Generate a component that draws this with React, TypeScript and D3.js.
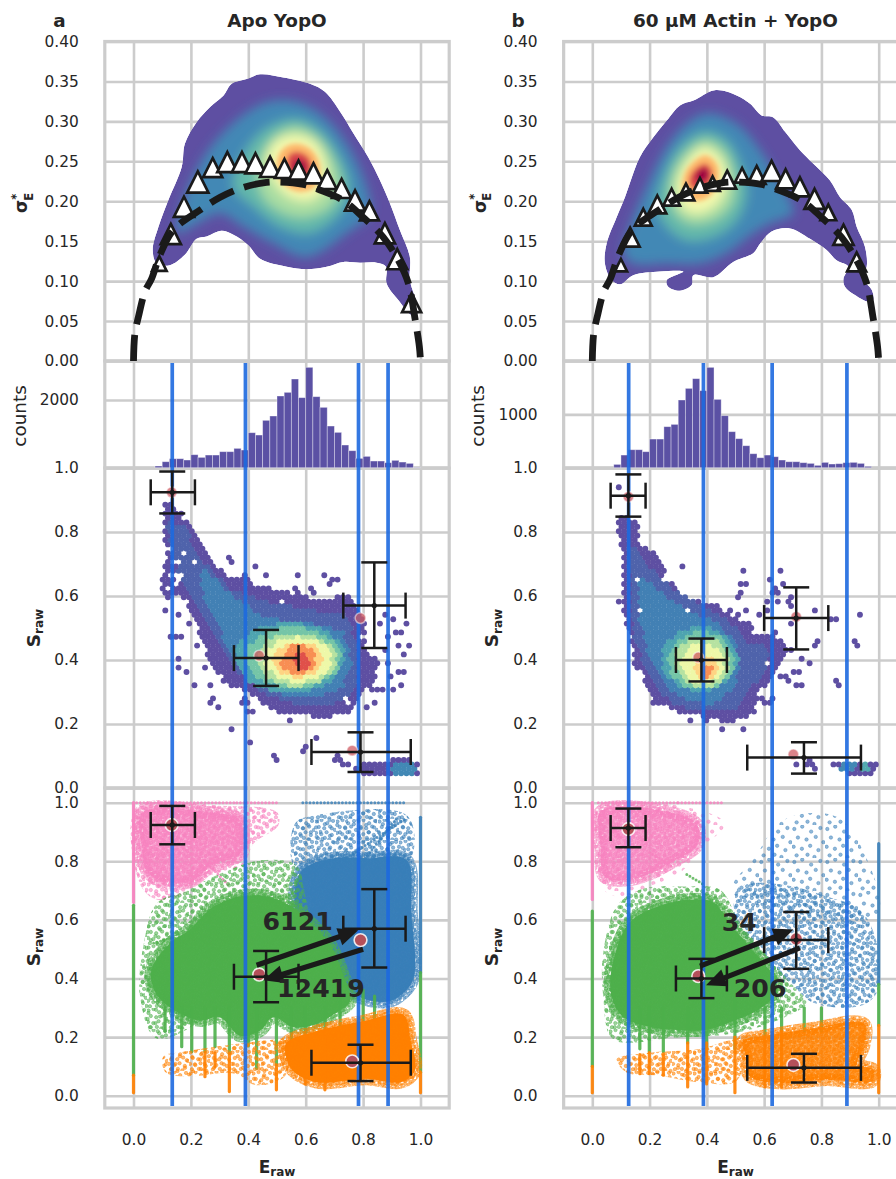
import React, { useEffect, useRef } from 'react';
import * as d3 from 'd3';

type Pt = [number, number];
type Pt3 = [number, number, number];
type Seg = [number, number, number, string];

// ---- histogram counts, bins start at E = 0.075 and are 0.025 wide
const histStart = 0.075;
const histStep = 0.025;
const apoCounts = [50, 177, 266, 266, 227, 384, 305, 374, 374, 473, 473, 571, 522, 1034, 965, 1399, 1527, 2118, 2226, 2620, 2069, 2965, 2098, 1783, 1231, 1044, 670, 502, 276, 335, 197, 197, 148, 217, 167, 128, 10];
const actinCounts = [62, 237, 337, 337, 300, 537, 537, 769, 812, 1269, 1487, 1669, 1444, 1881, 1281, 975, 675, 544, 412, 262, 187, 237, 206, 144, 112, 112, 94, 81, 44, 100, 69, 75, 94, 100, 81, 25];

// ---- blue FRET bursts cut lines
const apoCuts = [0.135, 0.39, 0.784, 0.887];
const actinCuts = [0.127, 0.388, 0.628, 0.889];

// ---- sigma triangles [E, sigma, marker size]
const apoSigma: Pt3[] = [[0.09, 0.122, 13], [0.13, 0.159, 18], [0.176, 0.193, 18], [0.224, 0.224, 19], [0.276, 0.242, 17], [0.327, 0.249, 18], [0.378, 0.249, 18], [0.425, 0.2475, 18], [0.476, 0.243, 18], [0.526, 0.241, 17], [0.575, 0.239, 17], [0.627, 0.235, 18], [0.675, 0.227, 17], [0.725, 0.216, 17], [0.772, 0.201, 18], [0.822, 0.188, 17], [0.876, 0.16, 18], [0.919, 0.1275, 18], [0.969, 0.073, 17]];
const actinSigma: Pt3[] = [[0.1, 0.12, 11], [0.132, 0.155, 17], [0.178, 0.18, 15], [0.227, 0.196, 16], [0.277, 0.205, 15], [0.327, 0.2115, 15], [0.376, 0.22, 13], [0.42, 0.222, 13], [0.471, 0.227, 16], [0.523, 0.2325, 13], [0.574, 0.233, 16], [0.626, 0.238, 18], [0.675, 0.228, 17], [0.725, 0.218, 17], [0.776, 0.203, 18], [0.824, 0.186, 14], [0.877, 0.158, 18], [0.923, 0.124, 17]];

// ---- static shot noise arc
const shotNoiseArc: Pt[] = [[0, 0], [0.005, 0.035], [0.017, 0.055], [0.04, 0.087], [0.063, 0.103], [0.092, 0.1325], [0.139, 0.164], [0.232, 0.189], [0.302, 0.205], [0.371, 0.216], [0.452, 0.223], [0.51, 0.224], [0.592, 0.221], [0.65, 0.214], [0.731, 0.201], [0.8, 0.18], [0.87, 0.155], [0.923, 0.126], [0.958, 0.097], [0.98, 0.055], [0.996, 0.018], [1, 0]];

// ---- density outline and contour bands, top row
const apoKdeOutline: Pt[] = [[0.441, 0.359], [0.522, 0.355], [0.615, 0.347], [0.667, 0.337], [0.72, 0.312], [0.766, 0.285], [0.818, 0.255], [0.859, 0.226], [0.894, 0.197], [0.928, 0.164], [0.963, 0.13], [0.963, 0.101], [0.992, 0.068], [0.992, 0.06], [0.969, 0.0575], [0.928, 0.074], [0.882, 0.097], [0.88, 0.118], [0.847, 0.123], [0.789, 0.123], [0.731, 0.124], [0.673, 0.118], [0.603, 0.115], [0.534, 0.118], [0.441, 0.128], [0.4, 0.145], [0.348, 0.158], [0.307, 0.163], [0.255, 0.156], [0.22, 0.153], [0.179, 0.133], [0.127, 0.12], [0.081, 0.122], [0.067, 0.139], [0.087, 0.168], [0.121, 0.201], [0.168, 0.243], [0.179, 0.272], [0.22, 0.299], [0.267, 0.318], [0.313, 0.332], [0.342, 0.347], [0.394, 0.353]];
const apoKdeBlue: Pt[] = [[0.545, 0.326], [0.65, 0.31], [0.743, 0.272], [0.812, 0.218], [0.824, 0.185], [0.743, 0.16], [0.603, 0.13], [0.487, 0.147], [0.383, 0.168], [0.301, 0.185], [0.22, 0.172], [0.15, 0.16], [0.168, 0.193], [0.22, 0.239], [0.278, 0.272], [0.371, 0.305], [0.464, 0.324]];
const apoKdeTeal: Pt[] = [[0.563, 0.303], [0.65, 0.289], [0.719, 0.255], [0.754, 0.218], [0.719, 0.185], [0.615, 0.16], [0.51, 0.168], [0.418, 0.193], [0.348, 0.218], [0.371, 0.251], [0.452, 0.289]];
const apoKdeGreen: Pt[] = [[0.563, 0.293], [0.638, 0.28], [0.696, 0.251], [0.719, 0.218], [0.685, 0.193], [0.603, 0.18], [0.522, 0.185], [0.452, 0.205], [0.429, 0.239], [0.476, 0.276]];
const apoKdeYellow: Pt[] = [[0.563, 0.283], [0.627, 0.276], [0.667, 0.251], [0.667, 0.218], [0.615, 0.201], [0.545, 0.205], [0.487, 0.226], [0.464, 0.251], [0.499, 0.276]];
const apoKdeOrange: Pt[] = [[0.569, 0.272], [0.621, 0.264], [0.65, 0.243], [0.632, 0.218], [0.58, 0.212], [0.522, 0.222], [0.499, 0.247], [0.522, 0.266]];
const apoKdeRed: Pt[] = [[0.572, 0.262], [0.609, 0.255], [0.621, 0.239], [0.592, 0.226], [0.551, 0.232], [0.534, 0.247], [0.545, 0.259]];
const apoKdeCore: Pt[] = [[0.574, 0.252], [0.598, 0.247], [0.598, 0.237], [0.574, 0.232], [0.555, 0.241], [0.557, 0.248]];

const actinKdeOutline: Pt[] = [[0.428, 0.339], [0.504, 0.3325], [0.551, 0.322], [0.591, 0.3075], [0.632, 0.305], [0.673, 0.287], [0.725, 0.264], [0.772, 0.247], [0.83, 0.226], [0.865, 0.205], [0.906, 0.189], [0.923, 0.168], [0.952, 0.143], [0.958, 0.118], [0.941, 0.105], [0.976, 0.089], [0.981, 0.076], [0.964, 0.074], [0.917, 0.0825], [0.882, 0.093], [0.877, 0.103], [0.894, 0.118], [0.853, 0.126], [0.818, 0.139], [0.76, 0.153], [0.69, 0.166], [0.626, 0.162], [0.586, 0.147], [0.562, 0.135], [0.492, 0.124], [0.423, 0.105], [0.353, 0.1075], [0.347, 0.095], [0.306, 0.088], [0.265, 0.093], [0.26, 0.101], [0.318, 0.112], [0.236, 0.112], [0.143, 0.1075], [0.097, 0.096], [0.0675, 0.101], [0.044, 0.122], [0.05, 0.147], [0.085, 0.18], [0.114, 0.205], [0.166, 0.255], [0.213, 0.28], [0.26, 0.301], [0.306, 0.32], [0.353, 0.326]];
const actinKdeBlue: Pt[] = [[0.399, 0.31], [0.504, 0.297], [0.586, 0.264], [0.644, 0.23], [0.69, 0.201], [0.702, 0.185], [0.62, 0.172], [0.562, 0.16], [0.469, 0.135], [0.376, 0.122], [0.26, 0.122], [0.143, 0.122], [0.108, 0.135], [0.132, 0.168], [0.19, 0.218], [0.26, 0.268], [0.329, 0.297]];
const actinKdeTeal: Pt[] = [[0.393, 0.287], [0.469, 0.276], [0.516, 0.247], [0.539, 0.21], [0.504, 0.176], [0.423, 0.155], [0.329, 0.151], [0.26, 0.168], [0.225, 0.193], [0.248, 0.23], [0.306, 0.268]];
const actinKdeGreen: Pt[] = [[0.393, 0.276], [0.458, 0.264], [0.492, 0.235], [0.492, 0.201], [0.434, 0.178], [0.341, 0.172], [0.283, 0.189], [0.271, 0.218], [0.306, 0.251]];
const actinKdeYellow: Pt[] = [[0.388, 0.268], [0.446, 0.255], [0.469, 0.23], [0.446, 0.201], [0.376, 0.185], [0.318, 0.191], [0.295, 0.214], [0.318, 0.243]];
const actinKdeOrange: Pt[] = [[0.393, 0.2575], [0.434, 0.247], [0.44, 0.226], [0.405, 0.205], [0.353, 0.201], [0.318, 0.214], [0.329, 0.239]];
const actinKdeRed: Pt[] = [[0.393, 0.247], [0.417, 0.239], [0.411, 0.222], [0.37, 0.214], [0.341, 0.22], [0.347, 0.235]];
const actinKdeCore: Pt[] = [[0.393, 0.241], [0.405, 0.2325], [0.382, 0.224], [0.362, 0.228], [0.37, 0.237]];

// colour position of each band on the Spectral ramp
const kdeLevels = [0.1, 0.19, 0.3, 0.46, 0.68, 0.88, 1];

// ---- hexbin panel: outlines of count levels, then ellipses [E, S, rE, rS, level]
const apoHexOuter: Pt[] = [[0.102, 0.846], [0.106, 0.893], [0.139, 0.882], [0.185, 0.846], [0.208, 0.794], [0.255, 0.742], [0.29, 0.69], [0.336, 0.658], [0.383, 0.658], [0.429, 0.632], [0.499, 0.622], [0.58, 0.601], [0.65, 0.585], [0.754, 0.606], [0.807, 0.523], [0.812, 0.44], [0.853, 0.3875], [0.836, 0.335], [0.783, 0.283], [0.766, 0.242], [0.685, 0.221], [0.603, 0.226], [0.534, 0.226], [0.464, 0.252], [0.394, 0.304], [0.336, 0.32], [0.29, 0.367], [0.255, 0.419], [0.22, 0.5125], [0.185, 0.585], [0.15, 0.606], [0.104, 0.585], [0.096, 0.658], [0.121, 0.742], [0.104, 0.794]];
const apoHexLevel1: Pt[] = [[0.116, 0.835], [0.174, 0.825], [0.232, 0.721], [0.29, 0.669], [0.348, 0.617], [0.464, 0.585], [0.638, 0.554], [0.743, 0.544], [0.778, 0.44], [0.783, 0.346], [0.743, 0.273], [0.638, 0.252], [0.522, 0.273], [0.441, 0.304], [0.371, 0.356], [0.325, 0.419], [0.278, 0.481], [0.22, 0.585], [0.162, 0.669], [0.127, 0.731]];
const apoHexLevel2: Pt[] = [[0.243, 0.69], [0.29, 0.648], [0.371, 0.585], [0.464, 0.533], [0.638, 0.5125], [0.731, 0.492], [0.76, 0.398], [0.731, 0.315], [0.638, 0.283], [0.522, 0.294], [0.429, 0.335], [0.359, 0.398], [0.313, 0.471], [0.278, 0.544], [0.232, 0.627]];
const apoHexCore = [[0.545, 0.408, 0.19, 0.11, 0.15], [0.557, 0.408, 0.165, 0.095, 0.22], [0.568, 0.403, 0.14, 0.083, 0.32], [0.574, 0.403, 0.115, 0.07, 0.44], [0.574, 0.403, 0.085, 0.055, 0.62], [0.574, 0.403, 0.06, 0.045, 0.75], [0.586, 0.398, 0.03, 0.03, 0.86], [0.94, 0.06, 0.05, 0.02, 0.1]];
const apoHexTail: Pt[] = [[0.754, 0.054], [0.795, 0.08], [0.871, 0.08], [0.917, 0.096], [0.969, 0.096], [0.998, 0.0625], [0.987, 0.044], [0.812, 0.044]];
const apoHexLoose: Pt[] = [[0.339, 0.183], [0.414, 0.1375], [0.491, 0.094], [0.542, 0.2125], [0.592, 0.122], [0.644, 0.153], [0.711, 0.094], [0.739, 0.077], [0.329, 0.721], [0.336, 0.705], [0.423, 0.692], [0.456, 0.664], [0.388, 0.658], [0.577, 0.664], [0.659, 0.66], [0.678, 0.6375], [0.702, 0.648], [0.569, 0.617], [0.621, 0.617], [0.87, 0.544], [0.905, 0.528], [0.946, 0.5125], [0.934, 0.486], [0.958, 0.44], [0.94, 0.419], [0.894, 0.471], [0.865, 0.5125], [0.917, 0.481], [0.882, 0.393], [0.899, 0.351], [0.932, 0.361], [0.94, 0.318], [0.899, 0.304], [0.859, 0.304], [0.824, 0.304], [0.812, 0.257], [0.842, 0.268], [0.836, 0.335], [0.882, 0.429], [0.923, 0.45], [0.162, 0.408], [0.162, 0.377], [0.191, 0.361], [0.208, 0.32], [0.267, 0.32], [0.273, 0.273], [0.296, 0.257], [0.406, 0.242], [0.388, 0.273], [0.307, 0.33], [0.243, 0.372], [0.22, 0.45], [0.174, 0.471], [0.139, 0.469], [0.162, 0.5385], [0.197, 0.518], [0.11, 0.559]];
const apoHexHoles: Pt[] = [[0.168, 0.845], [0.176, 0.738], [0.212, 0.71], [0.516, 0.5875], [0.746, 0.273], [0.804, 0.471], [0.162, 0.705], [0.133, 0.752], [0.139, 0.705], [0.162, 0.658], [0.139, 0.669], [0.12, 0.62], [0.15, 0.64]];

const actinHexOuter: Pt[] = [[0.085, 0.846], [0.12, 0.856], [0.166, 0.815], [0.155, 0.7625], [0.213, 0.742], [0.248, 0.71], [0.26, 0.658], [0.306, 0.606], [0.376, 0.585], [0.434, 0.57], [0.492, 0.533], [0.562, 0.518], [0.562, 0.471], [0.638, 0.481], [0.69, 0.429], [0.655, 0.377], [0.586, 0.304], [0.562, 0.231], [0.469, 0.205], [0.399, 0.221], [0.283, 0.242], [0.225, 0.268], [0.184, 0.335], [0.143, 0.429], [0.12, 0.5125], [0.102, 0.648], [0.114, 0.71], [0.097, 0.7625]];
const actinHexLevel1: Pt[] = [[0.126, 0.773], [0.19, 0.7], [0.248, 0.648], [0.329, 0.596], [0.423, 0.554], [0.492, 0.5125], [0.539, 0.45], [0.609, 0.45], [0.62, 0.398], [0.551, 0.304], [0.516, 0.252], [0.376, 0.242], [0.283, 0.2625], [0.225, 0.315], [0.178, 0.398], [0.143, 0.481], [0.132, 0.606]];
const actinHexLevel2: Pt[] = [[0.155, 0.669], [0.236, 0.617], [0.329, 0.554], [0.423, 0.523], [0.492, 0.471], [0.516, 0.398], [0.504, 0.315], [0.423, 0.2625], [0.329, 0.273], [0.26, 0.315], [0.201, 0.398], [0.166, 0.523]];
const actinHexCore = [[0.376, 0.403, 0.134, 0.1, 0.15], [0.38, 0.398, 0.115, 0.09, 0.22], [0.385, 0.393, 0.095, 0.078, 0.32], [0.385, 0.39, 0.075, 0.062, 0.44], [0.395, 0.375, 0.04, 0.04, 0.62], [0.405, 0.365, 0.018, 0.018, 0.75], [0.895, 0.065, 0.03, 0.015, 0.1], [0.955, 0.062, 0.02, 0.012, 0.16]];
const actinHexTail: Pt[] = [[0.807, 0.0625], [0.853, 0.08], [0.993, 0.0855], [0.993, 0.075], [0.981, 0.044], [0.9, 0.044], [0.877, 0.059]];
const actinHexLoose: Pt[] = [[0.32, 0.692], [0.533, 0.677], [0.653, 0.677], [0.62, 0.648], [0.51, 0.603], [0.527, 0.632], [0.539, 0.632], [0.661, 0.632], [0.638, 0.617], [0.603, 0.5875], [0.65, 0.585], [0.702, 0.601], [0.69, 0.575], [0.772, 0.556], [0.842, 0.528], [0.935, 0.542], [0.483, 0.556], [0.533, 0.556], [0.51, 0.539], [0.58, 0.544], [0.609, 0.556], [0.69, 0.5125], [0.638, 0.483], [0.917, 0.452], [0.781, 0.452], [0.69, 0.434], [0.739, 0.408], [0.762, 0.393], [0.73, 0.3635], [0.696, 0.3635], [0.667, 0.351], [0.679, 0.33], [0.722, 0.317], [0.85, 0.333], [0.857, 0.317], [0.597, 0.273], [0.626, 0.273], [0.091, 0.5875], [0.108, 0.559], [0.1, 0.934], [0.339, 0.2125], [0.525, 0.183], [0.4575, 0.183], [0.402, 0.2125], [0.705, 0.077], [0.754, 0.08], [0.781, 0.0625], [0.772, 0.077], [0.149, 0.3875], [0.166, 0.372], [0.219, 0.273]];
const actinHexHoles: Pt[] = [[0.157, 0.648], [0.242, 0.648], [0.329, 0.559], [0.161, 0.559], [0.609, 0.393]];

// ---- cluster means: [E, S]; Gaussian fit with x and y extents of the error bars
const apoMeans: Pt[] = [[0.133, 0.924], [0.438, 0.4135], [0.791, 0.531], [0.762, 0.117]];
const apoFits = [[0.135, 0.924, 0.06, 0.214, 0.858, 0.989], [0.462, 0.406, 0.35, 0.575, 0.319, 0.494], [0.839, 0.57, 0.731, 0.948, 0.4375, 0.705], [0.791, 0.1125, 0.62, 0.966, 0.05, 0.174]];
const actinMeans: Pt[] = [[0.126, 0.91], [0.37, 0.408], [0.712, 0.535], [0.702, 0.105]];
const actinFits = [[0.126, 0.9135, 0.064, 0.186, 0.848, 0.98], [0.381, 0.4, 0.292, 0.47, 0.333, 0.467], [0.712, 0.531, 0.6, 0.824, 0.433, 0.627], [0.739, 0.095, 0.541, 0.938, 0.045, 0.143]];

// ---- transition arrows [E0, S0, E1, S1] and their counts [label, E, S]
const apoArrows = [[0.429, 0.445, 0.783, 0.565], [0.8, 0.5, 0.452, 0.394]];
const apoRates: [string, number, number][] = [['6121', 0.572, 0.595], ['12419', 0.653, 0.369]];
const actinArrows = [[0.376, 0.442, 0.702, 0.567], [0.725, 0.5045, 0.397, 0.377]];
const actinRates: [string, number, number][] = [['34', 0.513, 0.592], ['206', 0.586, 0.369]];

// ---- scatter clouds, bottom row: outlines of the filled and of the thin parts
const apoPinkCore: Pt[] = [[0.03, 0.965], [0.278, 0.965], [0.37, 0.94], [0.37, 0.825], [0.278, 0.79], [0.197, 0.73], [0.092, 0.735], [0.045, 0.77], [0.03, 0.85]];
const apoPinkThin: Pt[] = [[0.011, 0.985], [0.3, 0.99], [0.499, 0.968], [0.505, 0.923], [0.418, 0.86], [0.383, 0.792], [0.255, 0.747], [0.174, 0.69], [0.092, 0.667], [0.028, 0.7125]];
const apoBlueCore: Pt[] = [[0.58, 0.76], [0.696, 0.81], [0.812, 0.81], [0.95, 0.805], [0.968, 0.622], [0.975, 0.4], [0.92, 0.335], [0.871, 0.32], [0.78, 0.34], [0.7, 0.4], [0.58, 0.55]];
const apoBlueThin: Pt[] = [[0.563, 0.929], [0.638, 0.957], [0.952, 0.957], [0.969, 0.815], [0.85, 0.75], [0.568, 0.769]];
const apoGreenCore: Pt[] = [[0.195, 0.566], [0.278, 0.645], [0.371, 0.68], [0.464, 0.68], [0.55, 0.646], [0.628, 0.58], [0.686, 0.515], [0.733, 0.406], [0.756, 0.325], [0.7, 0.279], [0.638, 0.245], [0.557, 0.234], [0.487, 0.268], [0.441, 0.2225], [0.371, 0.205], [0.301, 0.268], [0.232, 0.2566], [0.145, 0.291], [0.079, 0.3475], [0.062, 0.428], [0.126, 0.519]];
const apoGreenThin: Pt[] = [[0.034, 0.508], [0.081, 0.656], [0.185, 0.7], [0.278, 0.747], [0.441, 0.803], [0.568, 0.786], [0.592, 0.7125], [0.6, 0.55], [0.3, 0.3], [0.081, 0.195], [0.023, 0.3375]];
const apoOrangeCore: Pt[] = [[0.532, 0.18], [0.638, 0.22], [0.8, 0.254], [0.94, 0.276], [0.965, 0.19], [0.98, 0.085], [0.93, 0.046], [0.812, 0.058], [0.638, 0.046], [0.555, 0.086], [0.532, 0.133]];
const apoOrangeThin: Pt[] = [[0.104, 0.133], [0.174, 0.15], [0.371, 0.178], [0.476, 0.19], [0.53, 0.19], [0.53, 0.07], [0.429, 0.036], [0.348, 0.076], [0.185, 0.065], [0.11, 0.082]];

const actinPinkCore: Pt[] = [[0.03, 0.97], [0.26, 0.97], [0.366, 0.925], [0.366, 0.855], [0.283, 0.8], [0.201, 0.758], [0.12, 0.736], [0.043, 0.747], [0.03, 0.85]];
const actinPinkThin: Pt[] = [[0.021, 0.986], [0.3, 0.99], [0.463, 0.93], [0.376, 0.839], [0.306, 0.76], [0.213, 0.72], [0.085, 0.68], [0.033, 0.714]];
const actinBlueCore: Pt[] = [[0.504, 0.703], [0.562, 0.7256], [0.702, 0.714], [0.818, 0.68], [0.935, 0.635], [0.993, 0.5215], [0.993, 0.351], [0.935, 0.306], [0.772, 0.317], [0.702, 0.374], [0.62, 0.442], [0.504, 0.59]];
const actinBlueThin: Pt[] = [[0.562, 0.805], [0.667, 0.941], [0.853, 0.952], [0.97, 0.782], [0.999, 0.624], [0.9, 0.6], [0.6, 0.65], [0.492, 0.714]];
const actinGreenCore: Pt[] = [[0.13, 0.59], [0.236, 0.648], [0.353, 0.67], [0.423, 0.659], [0.482, 0.585], [0.552, 0.505], [0.616, 0.431], [0.645, 0.358], [0.58, 0.293], [0.504, 0.259], [0.399, 0.225], [0.283, 0.225], [0.19, 0.237], [0.105, 0.271], [0.066, 0.345], [0.072, 0.4535]];
const actinGreenThin: Pt[] = [[0.038, 0.4875], [0.085, 0.646], [0.166, 0.703], [0.329, 0.714], [0.446, 0.703], [0.516, 0.59], [0.702, 0.374], [0.749, 0.317], [0.655, 0.261], [0.504, 0.215], [0.283, 0.198], [0.073, 0.193], [0.038, 0.34]];
const actinOrangeCore: Pt[] = [[0.526, 0.185], [0.609, 0.205], [0.76, 0.228], [0.948, 0.245], [0.948, 0.17], [0.925, 0.11], [0.983, 0.087], [0.977, 0.05], [0.818, 0.055], [0.655, 0.044], [0.549, 0.067], [0.537, 0.136]];
const actinOrangeThin: Pt[] = [[0.085, 0.125], [0.201, 0.147], [0.376, 0.159], [0.469, 0.187], [0.53, 0.193], [0.504, 0.051], [0.376, 0.045], [0.236, 0.068], [0.12, 0.079]];

// ---- vertical stripes of bursts with few photons: [E, S from, S to, cluster]
const apoStripes: Seg[] = [[0, 1, 0.66, 'pink'], [0, 0.65, 0.07, 'green'], [0, 0.07, 0.01, 'orange'], [1, 0.95, 0.42, 'blue'], [1, 0.42, 0.08, 'green'], [1, 0.08, 0.01, 'orange'], [0.11, 0.3, 0.22, 'green'], [0.168, 0.3, 0.167, 'green'], [0.203, 0.3, 0.15, 'green'], [0.249, 0.3, 0.15, 'green'], [0.249, 0.15, 0.065, 'orange'], [0.284, 0.3, 0.167, 'green'], [0.284, 0.145, 0.099, 'orange'], [0.334, 0.3, 0.144, 'green'], [0.334, 0.144, 0.014, 'orange'], [0.4, 0.3, 0.17, 'green'], [0.429, 0.3, 0.093, 'green'], [0.498, 0.3, 0.105, 'green'], [0.498, 0.105, 0.02, 'orange'], [0.55, 0.3, 0.17, 'green'], [0.598, 0.3, 0.15, 'green'], [0.598, 0.15, 0.04, 'orange'], [0.667, 0.3, 0.2, 'green'], [0.667, 0.2, 0.02, 'orange'], [0.72, 0.32, 0.24, 'green'], [0.8, 0.36, 0.25, 'green'], [0.84, 0.34, 0.26, 'green']];
const actinStripes: Seg[] = [[0, 1, 0.67, 'pink'], [0, 0.63, 0.1, 'green'], [0, 0.1, 0.01, 'orange'], [1, 0.86, 0.38, 'blue'], [1, 0.38, 0.24, 'green'], [1, 0.24, 0.01, 'orange'], [0.166, 0.3, 0.16, 'green'], [0.166, 0.14, 0.075, 'orange'], [0.199, 0.3, 0.15, 'green'], [0.199, 0.147, 0.075, 'orange'], [0.248, 0.3, 0.15, 'green'], [0.248, 0.14, 0.07, 'orange'], [0.333, 0.3, 0.18, 'green'], [0.333, 0.18, 0.03, 'orange'], [0.399, 0.3, 0.15, 'green'], [0.399, 0.18, 0.04, 'orange'], [0.498, 0.34, 0.16, 'green'], [0.498, 0.2, 0.01, 'orange'], [0.603, 0.3, 0.2, 'green'], [0.603, 0.2, 0.03, 'orange'], [0.661, 0.3, 0.22, 'green'], [0.661, 0.22, 0.03, 'orange'], [0.74, 0.3, 0.22, 'green'], [0.8, 0.3, 0.22, 'green']];

// ---- straight lines of dots [E0, S0, E1, S1, cluster]
const apoRays: [number, number, number, number, string][] = [[0.011, 1, 0.36, 1, 'pink'], [0.36, 1, 0.5, 1, 'pink'], [0.59, 1, 0.95, 1, 'blue'], [0.609, 0.724, 0.946, 0.945, 'blue'], [0.8, 0.8, 0.92, 0.95, 'blue'], [0.5, 0.66, 0.57, 0.7, 'green'], [0.07, 0.52, 0.14, 0.54, 'green'], [0.25, 0.8, 0.33, 0.72, 'pink']];
const actinRays: [number, number, number, number, string][] = [[0.021, 1, 0.3, 1, 'pink'], [0.3, 1, 0.46, 1, 'pink'], [0.03, 0.97, 0.1, 0.88, 'pink'], [0.2, 0.83, 0.28, 0.78, 'pink'], [0.33, 0.755, 0.39, 0.72, 'green']];

const colors: Record<string, string> = { pink: '#f781bf', blue: '#377eb8', green: '#4daf4a', orange: '#ff7f00' };
const ink = '#262626';
const mark = '#1a1a1a';
const gridColor = '#cccccc';
const cutColor = '#1d69df';
const font = "'DejaVu Sans', sans-serif";

// scatter texture, positions inside one pattern tile
const tileDots: Pt[] = [[0.07, 0.12], [0.31, 0.05], [0.58, 0.2], [0.86, 0.09], [0.18, 0.38], [0.44, 0.44], [0.72, 0.36], [0.95, 0.52], [0.05, 0.66], [0.3, 0.72], [0.55, 0.63], [0.8, 0.76], [0.14, 0.92], [0.47, 0.9], [0.68, 0.97]];
const spectral = (t: number) => d3.interpolateSpectral(1 - t);

const inEllipse = (e: number, s: number, c: number[]) => ((e - c[0]) / c[2]) ** 2 + ((s - c[1]) / c[3]) ** 2 <= 1;

const columns = [
  {
    id: 'a', letter: 'a', title: 'Apo YopO', x0: 133.5, x1: 420.5, counts: apoCounts, histMax: 3152, histTicks: [2000], cuts: apoCuts,
    sigma: apoSigma, outline: apoKdeOutline, bands: [apoKdeBlue, apoKdeTeal, apoKdeGreen, apoKdeYellow, apoKdeOrange, apoKdeRed, apoKdeCore],
    hexOuter: apoHexOuter, hexL1: apoHexLevel1, hexL2: apoHexLevel2, hexCore: apoHexCore, hexTail: apoHexTail, hexLoose: apoHexLoose, hexHoles: apoHexHoles,
    means: apoMeans, fits: apoFits, arrows: apoArrows, rates: apoRates, stripes: apoStripes, rays: apoRays,
    clouds: [
      ['pink', apoPinkThin, 'mid', apoPinkCore, 'pinkSolid'], ['blue', apoBlueThin, 'mid', apoBlueCore, 'solid'],
      ['green', apoGreenThin, 'mid', apoGreenCore, 'solid'], ['orange', apoOrangeThin, 'mid', apoOrangeCore, 'solid'],
    ],
  },
  {
    id: 'b', letter: 'b', title: '60 µM Actin + YopO', x0: 592.3, x1: 878.7, counts: actinCounts, histMax: 2000, histTicks: [1000], cuts: actinCuts,
    sigma: actinSigma, outline: actinKdeOutline, bands: [actinKdeBlue, actinKdeTeal, actinKdeGreen, actinKdeYellow, actinKdeOrange, actinKdeRed, actinKdeCore],
    hexOuter: actinHexOuter, hexL1: actinHexLevel1, hexL2: actinHexLevel2, hexCore: actinHexCore, hexTail: actinHexTail, hexLoose: actinHexLoose, hexHoles: actinHexHoles,
    means: actinMeans, fits: actinFits, arrows: actinArrows, rates: actinRates, stripes: actinStripes, rays: actinRays,
    clouds: [
      ['pink', actinPinkThin, 'sparse', actinPinkCore, 'pinkSolid'], ['blue', actinBlueThin, 'sparse', actinBlueCore, 'mid'],
      ['green', actinGreenThin, 'mid', actinGreenCore, 'solid'], ['orange', actinOrangeThin, 'mid', actinOrangeCore, 'dense'],
    ],
  },
];

function drawColumn(svg: any, defs: any, c: any) {
  const unit = c.x1 - c.x0;
  const x = d3.scaleLinear().domain([-0.1, 1.1]).range([c.x0 - 0.1 * unit, c.x1 + 0.1 * unit]);
  const ySigma = d3.scaleLinear().domain([0, 0.4]).range([361, 41.5]);
  const yHist = d3.scaleLinear().domain([0, c.histMax]).range([467.7, 361]);
  const yHex = d3.scaleLinear().domain([0, 1]).range([788, 468]);
  const yDots = d3.scaleLinear().domain([0, 1]).range([1095.7, 802.7]);
  const left = x.range()[0];
  const right = x.range()[1];
  const frameBottom = 1108;
  const width = right - left;
  const g = svg.append('g');

  const styleAxis = (a: any) => {
    a.select('.domain').remove();
    a.selectAll('line').attr('stroke', gridColor).attr('stroke-width', 2.6);
    a.selectAll('text').attr('fill', ink).attr('font-family', font).attr('font-size', 15.4);
  };
  const yAxis = (scale: any, ticks: number[], fmt: string) =>
    g.append('g').attr('transform', `translate(${left},0)`)
      .call(d3.axisLeft(scale).tickValues(ticks).tickFormat(d3.format(fmt) as any).tickSize(-width).tickPadding(26))
      .call(styleAxis);

  yAxis(ySigma, [0, 0.05, 0.1, 0.15, 0.2, 0.25, 0.3, 0.35, 0.4], '.2f');
  yAxis(yHist, c.histTicks, 'd');
  yAxis(yHex, [0, 0.2, 0.4, 0.6, 0.8, 1], '.1f');
  yAxis(yDots, [0, 0.2, 0.4, 0.6, 0.8, 1], '.1f');
  g.append('g').attr('transform', `translate(0,${frameBottom})`)
    .call(d3.axisBottom(x).tickValues([0, 0.2, 0.4, 0.6, 0.8, 1]).tickFormat(d3.format('.1f') as any).tickSize(-(frameBottom - 41.5)).tickPadding(26))
    .call(styleAxis);

  [[41.5, 361], [361, 468], [468, 788], [788, frameBottom]].forEach(([top, bottom]) => {
    g.append('rect').attr('x', left).attr('y', top).attr('width', width).attr('height', bottom - top)
      .attr('fill', 'none').attr('stroke', gridColor).attr('stroke-width', 3.2);
  });

  // top row: density, wide blur for the outer bands and a tight one round the peak
  const kdeLine = d3.line<Pt>().x(d => x(d[0])).y(d => ySigma(d[1])).curve(d3.curveCatmullRomClosed);
  defs.append('clipPath').attr('id', `kde-${c.id}`).append('path').attr('d', kdeLine(c.outline));
  const kde = g.append('g').attr('clip-path', `url(#kde-${c.id})`);
  kde.append('path').attr('d', kdeLine(c.outline)).attr('fill', spectral(0));
  const blurred = kde.append('g').attr('filter', 'url(#soften)');
  const peak = kde.append('g').attr('filter', 'url(#soften-peak)');
  c.bands.forEach((band: Pt[], i: number) => {
    (i < 4 ? blurred : peak).append('path').attr('d', kdeLine(band)).attr('fill', spectral(kdeLevels[i]));
  });

  g.selectAll(null).data(c.sigma).join('path')
    .attr('d', (d: Pt3) => { const h = d[2] * 0.56; return `M0,${-h}L${h},${h}L${-h},${h}Z`; })
    .attr('transform', (d: Pt3) => `translate(${x(d[0])},${ySigma(d[1])})`)
    .attr('fill', '#fff').attr('stroke', mark).attr('stroke-width', 2.7).attr('stroke-linejoin', 'miter');

  const arc = d3.line<Pt>().x(d => x(d[0])).y(d => ySigma(d[1])).curve(d3.curveCatmullRom);
  g.append('path').attr('d', arc(shotNoiseArc)).attr('fill', 'none').attr('stroke', mark)
    .attr('stroke-width', 6.8).attr('stroke-dasharray', '26 11');

  // histogram
  const binW = histStep * unit;
  g.selectAll(null).data(c.counts).join('rect')
    .attr('x', (_: number, i: number) => x(histStart + i * histStep))
    .attr('y', (d: number) => yHist(d))
    .attr('width', binW)
    .attr('height', (d: number) => yHist(0) - yHist(d))
    .attr('fill', '#5b51a4').attr('stroke', '#fff').attr('stroke-opacity', 0.45).attr('stroke-width', 0.8);

  // hexbin: one lattice, a cell takes the highest count level it falls in
  const stepE = 5.3 / unit;
  const stepS = 4.4 / 320;
  const cells: { e: number; s: number; t: number }[] = [];
  d3.range(0, 72).forEach(r => {
    d3.range(0, 58).forEach(col => {
      const e = (col + (r % 2) / 2) * stepE;
      const s = r * stepS + 0.005;
      const near = (p: Pt) => Math.abs(p[0] - e) < stepE * 0.55 && Math.abs(p[1] - s) < stepS * 0.55;
      if (c.hexHoles.some(near)) return;
      const inOuter = d3.polygonContains(c.hexOuter, [e, s]);
      const inTail = d3.polygonContains(c.hexTail, [e, s]);
      const loose = c.hexLoose.some(near);
      if (!inOuter && !inTail && !loose) return;
      let t = 0;
      if (d3.polygonContains(c.hexL1, [e, s])) t = 0.035;
      if (d3.polygonContains(c.hexL2, [e, s])) t = 0.085;
      c.hexCore.forEach((k: number[]) => { if (inEllipse(e, s, k) && k[4] > t) t = k[4]; });
      cells.push({ e, s, t });
    });
  });
  g.append('g').selectAll('circle').data(cells).join('circle')
    .attr('cx', (d: any) => x(d.e)).attr('cy', (d: any) => yHex(d.s)).attr('r', 2.95)
    .attr('fill', (d: any) => spectral(d.t));

  // scatter clouds
  const dotsClip = `dots-${c.id}`;
  defs.append('clipPath').attr('id', dotsClip).append('rect')
    .attr('x', left).attr('y', 790).attr('width', width).attr('height', frameBottom - 792);
  const cloudLine = d3.line<Pt>().x(d => x(d[0])).y(d => yDots(d[1])).curve(d3.curveCatmullRomClosed);
  const scatter = g.append('g').attr('clip-path', `url(#${dotsClip})`);
  const fillLayer = (outline: Pt[], cluster: string, texture: string) => {
    const d = cloudLine(outline);
    const filled = texture === 'solid' || texture === 'pinkSolid' || texture === 'dense';
    if (filled) {
      // a dotted band round the filled part keeps its edge from looking cut out
      scatter.append('path').attr('d', d).attr('fill', 'none').attr('stroke', `url(#tile-${cluster}-dense)`).attr('stroke-width', 13);
      scatter.append('path').attr('d', d).attr('fill', 'none').attr('stroke', `url(#tile2-${cluster}-dense)`).attr('stroke-width', 7);
      const opacity = texture === 'solid' ? 1 : texture === 'dense' ? 0.6 : 0.5;
      scatter.append('path').attr('d', d).attr('fill', colors[cluster]).attr('fill-opacity', opacity);
    }
    const pat = texture === 'solid' ? 'mid' : texture === 'pinkSolid' ? 'dense' : texture;
    scatter.append('path').attr('d', d).attr('fill', `url(#tile-${cluster}-${pat})`);
    if (texture !== 'sparse') scatter.append('path').attr('d', d).attr('fill', `url(#tile2-${cluster}-${pat})`);
  };
  c.clouds.forEach(([cluster, thin, thinTex, core, coreTex]: any) => {
    fillLayer(thin, cluster, thinTex);
    c.rays.filter((r: any) => r[4] === cluster).forEach((r: any) => {
      scatter.append('line').attr('x1', x(r[0])).attr('y1', yDots(r[1])).attr('x2', x(r[2])).attr('y2', yDots(r[3]))
        .attr('stroke', colors[cluster]).attr('stroke-opacity', 0.8).attr('stroke-width', 3).attr('stroke-linecap', 'round').attr('stroke-dasharray', '0 3.6');
    });
    fillLayer(core, cluster, coreTex);
    c.stripes.filter((s: Seg) => s[3] === cluster).forEach((s: Seg) => {
      scatter.append('line').attr('x1', x(s[0])).attr('x2', x(s[0])).attr('y1', yDots(s[1])).attr('y2', yDots(s[2]))
        .attr('stroke', colors[cluster]).attr('stroke-opacity', 0.9).attr('stroke-width', 3.2).attr('stroke-linecap', 'round');
    });
  });

  // FRET cut lines run through the three lower panels
  c.cuts.forEach((e: number) => {
    g.append('line').attr('x1', x(e)).attr('x2', x(e)).attr('y1', 363).attr('y2', 1106)
      .attr('stroke', cutColor).attr('stroke-opacity', 0.9).attr('stroke-width', 3.7);
  });

  // means and fits in both lower panels
  [[yHex, 5.4, '#cf5a62', 0.75, 0.5], [yDots, 6.4, '#b4505a', 1, 0.85]].forEach(([y, r, fill, op, edge]: any) => {
    c.means.forEach((m: Pt) => {
      g.append('circle').attr('cx', x(m[0])).attr('cy', y(m[1])).attr('r', r).attr('fill', fill).attr('fill-opacity', op)
        .attr('stroke', '#fff').attr('stroke-opacity', edge).attr('stroke-width', 1.6);
    });
    c.fits.forEach((f: number[]) => {
      const bar = (x1: number, y1: number, x2: number, y2: number) =>
        g.append('line').attr('x1', x1).attr('y1', y1).attr('x2', x2).attr('y2', y2).attr('stroke', mark).attr('stroke-width', 2.5);
      const cap = 13;
      bar(x(f[2]), y(f[1]), x(f[3]), y(f[1]));
      bar(x(f[0]), y(f[4]), x(f[0]), y(f[5]));
      bar(x(f[2]), y(f[1]) - cap, x(f[2]), y(f[1]) + cap);
      bar(x(f[3]), y(f[1]) - cap, x(f[3]), y(f[1]) + cap);
      bar(x(f[0]) - cap, y(f[4]), x(f[0]) + cap, y(f[4]));
      bar(x(f[0]) - cap, y(f[5]), x(f[0]) + cap, y(f[5]));
      g.append('circle').attr('cx', x(f[0])).attr('cy', y(f[1])).attr('r', 2.6).attr('fill', mark);
    });
  });

  // transition arrows and counts
  c.arrows.forEach((a: number[]) => {
    const [x1, y1, x2, y2] = [x(a[0]), yDots(a[1]), x(a[2]), yDots(a[3])];
    const ang = Math.atan2(y2 - y1, x2 - x1);
    const len = Math.hypot(x2 - x1, y2 - y1);
    const arrow = g.append('g').attr('transform', `translate(${x1},${y1}) rotate(${(ang * 180) / Math.PI})`);
    arrow.append('rect').attr('x', 0).attr('y', -2.6).attr('width', len - 17).attr('height', 5.2).attr('fill', mark);
    arrow.append('path').attr('d', `M${len},0L${len - 20},-9L${len - 20},9Z`).attr('fill', mark);
  });
  c.rates.forEach((r: [string, number, number]) => {
    g.append('text').attr('x', x(r[1])).attr('y', yDots(r[2])).attr('dy', '0.36em').attr('text-anchor', 'middle')
      .attr('font-family', font).attr('font-weight', 'bold').attr('font-size', 25.2).attr('fill', ink).text(r[0]);
  });

  // titles and labels
  const text = (tx: number, ty: number, label: string, size: number, weight = 'bold', rot = 0) =>
    g.append('text').attr('transform', `translate(${tx},${ty}) rotate(${rot})`).attr('text-anchor', 'middle')
      .attr('font-family', font).attr('font-weight', weight).attr('font-size', size).attr('fill', ink).text(label);
  const shift = left - 104.8;
  text(c.id === 'a' ? 59.5 : 518, 26.5, c.letter, 18.4);
  text((left + right) / 2, 26.5, c.title, 18.4);
  text(25.5 + shift, 416, 'counts', 18.4, 'normal', -90);

  const sigmaLabel = g.append('text').attr('transform', `translate(${27 + shift},213) rotate(-90)`)
    .attr('font-family', font).attr('font-weight', 'bold').attr('fill', ink);
  sigmaLabel.append('tspan').attr('font-size', 17).text('σ');
  sigmaLabel.append('tspan').attr('font-size', 11.5).attr('dy', -7.5).text('*');
  sigmaLabel.append('tspan').attr('font-size', 11.5).attr('dx', -7).attr('dy', 13).text('E');

  const subLabel = (tx: number, ty: number, rot: number, big: string, size: number) => {
    const t = g.append('text').attr('transform', `translate(${tx},${ty}) rotate(${rot})`).attr('text-anchor', 'middle')
      .attr('font-family', font).attr('font-weight', 'bold').attr('fill', ink);
    t.append('tspan').attr('font-size', size).text(big);
    t.append('tspan').attr('font-size', 12).attr('dy', 3.4).text('raw');
  };
  subLabel(39.5 + shift, 628, -90, 'S', 18.5);
  subLabel(39.5 + shift, 947, -90, 'S', 18.5);
  subLabel(x(0.5), 1172.5, 0, 'E', 17);
}

function App() {
  const ref = useRef<SVGSVGElement>(null);

  useEffect(() => {
    const svg = d3.select(ref.current);
    svg.selectAll('*').remove();
    const defs = svg.append('defs');
    [['soften', 5.5], ['soften-peak', 2.6]].forEach(([id, blur]) => {
      defs.append('filter').attr('id', id).attr('x', '-20%').attr('y', '-20%').attr('width', '140%').attr('height', '140%')
        .append('feGaussianBlur').attr('stdDeviation', blur);
    });

    // dot textures for the scatter clouds
    Object.keys(colors).forEach(name => {
      [['dense', 13, 18], ['mid', 21, 29], ['sparse', 33, 43]].forEach(([label, a, b]: any) => {
        [['tile', a], ['tile2', b]].forEach(([prefix, size]: any) => {
          const p = defs.append('pattern').attr('id', `${prefix}-${name}-${label}`).attr('patternUnits', 'userSpaceOnUse')
            .attr('width', size).attr('height', size);
          p.selectAll('circle').data(tileDots).join('circle')
            .attr('cx', (d: Pt) => (prefix === 'tile' ? d[0] : d[1]) * size)
            .attr('cy', (d: Pt) => (prefix === 'tile' ? d[1] : 1 - d[0]) * size)
            .attr('r', 1.7).attr('fill', colors[name]).attr('fill-opacity', 0.55)
            .attr('stroke', colors[name]).attr('stroke-opacity', 0.75).attr('stroke-width', 0.6);
        });
      });
    });

    columns.forEach(c => drawColumn(svg, defs, c));
  }, []);

  return (
    <svg ref={ref} width={896} height={1179} style={{ position: 'absolute', left: 0, top: 0, background: '#fff' }} />
  );
}

export default App;
